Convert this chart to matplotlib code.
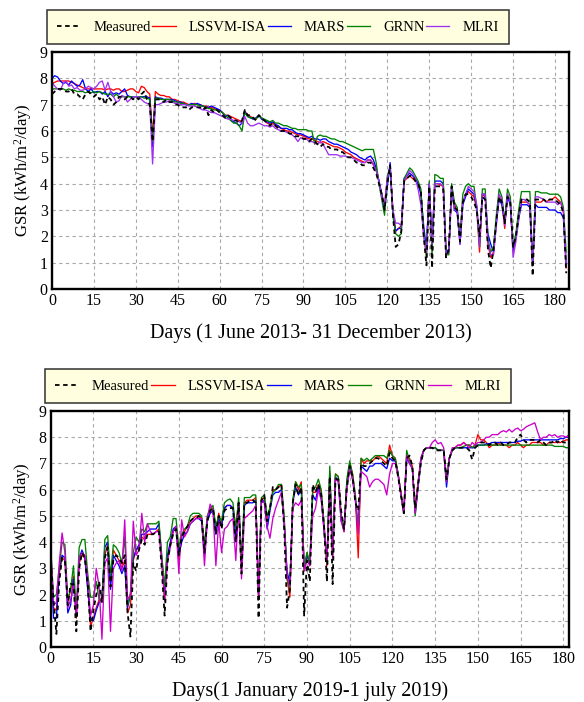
import numpy as np
import matplotlib
matplotlib.use("Agg")
import matplotlib.pyplot as plt

plt.rcParams['font.family'] = ['Liberation Serif', 'DejaVu Serif']
plt.rcParams['mathtext.fontset'] = 'custom'
plt.rcParams['mathtext.rm'] = 'Liberation Serif'
plt.rcParams['mathtext.it'] = 'Liberation Serif:italic'

series_names = ["Measured", "LSSVM-ISA", "MARS", "GRNN", "MLRI"]

# ---- Period 1: 1 June 2013 - 31 December 2013 (daily GSR, kWh/m2/day) ----
top_measured = [
    7.4, 7.5, 7.6, 7.6, 7.6, 7.5, 7.5, 7.6, 7.4, 7.4,
    7.3, 7.2, 7.4, 7.5, 7.4, 7.3, 7.4, 7.2, 7.3, 7.0,
    7.3, 7.2, 7.0, 7.1, 7.3, 7.3, 7.2, 7.3, 7.3, 7.2,
    7.3, 7.2, 7.4, 7.5, 7.2, 7.0, 5.6, 7.2, 7.2, 7.2,
    7.1, 7.2, 7.1, 7.1, 7.0, 7.0, 6.9, 6.9, 6.9, 6.8,
    6.9, 6.9, 6.9, 6.9, 6.8, 6.9, 6.6, 6.8, 6.7, 6.8,
    6.7, 6.6, 6.5, 6.6, 6.5, 6.4, 6.4, 6.3, 6.4, 6.8,
    6.6, 6.6, 6.5, 6.4, 6.6, 6.5, 6.4, 6.3, 6.2, 6.3,
    6.2, 6.1, 6.0, 6.0, 6.0, 5.9, 5.9, 5.8, 5.8, 5.8,
    5.7, 5.7, 5.6, 5.7, 5.6, 5.5, 5.4, 5.5, 5.4, 5.4,
    5.3, 5.3, 5.3, 5.2, 5.2, 5.1, 5.0, 5.0, 4.9, 4.8,
    4.8, 4.7, 4.7, 4.8, 4.8, 4.6, 4.4, 4.0, 3.6, 3.0,
    4.0, 4.7, 2.8, 1.6, 1.7, 2.2, 4.1, 4.2, 4.3, 4.3,
    4.1, 4.0, 3.7, 2.0, 0.9, 3.9, 0.8, 3.9, 3.9, 3.9,
    3.8, 1.2, 1.5, 3.9, 3.1, 3.0, 1.8, 3.3, 3.6, 3.6,
    3.5, 3.3, 3.0, 2.0, 3.5, 3.4, 1.5, 0.8, 1.5, 2.6,
    3.5, 3.3, 2.5, 3.5, 3.3, 1.6, 2.0, 2.8, 3.4, 3.4,
    3.4, 3.3, 0.5, 3.4, 3.4, 3.4, 3.4, 3.3, 3.4, 3.4,
    3.4, 3.3, 3.2, 2.9, 0.6,
]
top_lssvm = [
    7.8, 7.85, 7.9, 7.9, 7.9, 7.9, 7.9, 7.85, 7.8, 7.75,
    7.7, 7.65, 7.6, 7.6, 7.6, 7.6, 7.6, 7.6, 7.6, 7.55,
    7.6, 7.6, 7.55, 7.6, 7.6, 7.5, 7.5, 7.55, 7.6, 7.6,
    7.5, 7.45, 7.7, 7.65, 7.5, 7.4, 5.8, 7.5, 7.4, 7.35,
    7.35, 7.3, 7.3, 7.2, 7.2, 7.15, 7.1, 7.1, 7.05, 7.0,
    7.0, 7.05, 7.0, 7.0, 6.95, 6.95, 6.9, 6.9, 6.85, 6.8,
    6.8, 6.7, 6.6, 6.6, 6.55, 6.5, 6.45, 6.4, 6.35, 6.75,
    6.6, 6.55, 6.5, 6.45, 6.6, 6.5, 6.4, 6.3, 6.25, 6.3,
    6.2, 6.15, 6.1, 6.05, 6.0, 6.0, 5.95, 5.9, 5.85, 5.85,
    5.8, 5.75, 5.7, 5.7, 5.65, 5.6, 5.55, 5.6, 5.55, 5.5,
    5.45, 5.4, 5.4, 5.35, 5.3, 5.2, 5.15, 5.1, 5.0, 4.95,
    4.9, 4.85, 4.8, 4.9, 4.9, 4.75, 4.5, 4.1, 3.6, 3.2,
    4.2, 4.6, 3.0, 2.2, 2.3, 2.4, 4.1, 4.2, 4.3, 4.2,
    4.1, 4.0, 3.7, 2.1, 1.3, 3.9, 1.5, 4.0, 4.0, 3.95,
    3.9, 1.3, 1.4, 3.8, 3.2, 3.0, 1.9, 3.3, 3.6, 3.7,
    3.6, 3.5, 3.0, 1.4, 3.6, 3.5, 1.7, 1.2, 1.4, 2.6,
    3.5, 3.3, 2.3, 3.6, 3.3, 1.4, 2.0, 2.8, 3.3, 3.3,
    3.3, 3.2, 0.9, 3.3, 3.3, 3.3, 3.4, 3.3, 3.4, 3.4,
    3.5, 3.4, 3.3, 2.9, 0.8,
]
top_mars = [
    8.0, 8.1, 8.05, 7.9, 7.8, 7.85, 7.75, 7.9, 7.8, 7.7,
    7.75, 7.95, 7.6, 7.5, 7.6, 7.45, 7.5, 7.5, 7.4, 7.5,
    7.3, 7.5, 7.4, 7.45, 7.4, 7.5, 7.6, 7.35, 7.3, 7.3,
    7.3, 7.3, 7.3, 7.3, 7.3, 7.25, 5.4, 7.3, 7.25, 7.25,
    7.2, 7.2, 7.2, 7.2, 7.15, 7.1, 7.1, 7.05, 7.0, 7.0,
    7.05, 7.0, 7.05, 7.0, 6.95, 6.9, 6.9, 6.95, 6.9, 6.85,
    6.8, 6.7, 6.55, 6.6, 6.4, 6.35, 6.3, 6.2, 6.3, 6.75,
    6.55, 6.5, 6.45, 6.5, 6.6, 6.45, 6.4, 6.35, 6.3, 6.35,
    6.25, 6.2, 6.1, 6.1, 6.1, 6.05, 6.05, 5.95, 5.9, 5.9,
    5.85, 5.8, 5.75, 5.8, 5.7, 5.7, 5.65, 5.7, 5.7, 5.6,
    5.55, 5.5, 5.5, 5.45, 5.4, 5.35, 5.3, 5.2, 5.15, 5.1,
    5.0, 4.95, 4.9, 5.0, 5.05, 4.9, 4.6, 4.1, 3.6, 3.0,
    3.9, 4.8, 2.8, 2.2, 2.3, 2.3, 4.2, 4.3, 4.4, 4.3,
    4.2, 4.0, 3.6, 2.4, 1.5, 4.0, 1.6, 4.1, 4.1, 4.1,
    4.0, 1.4, 1.5, 3.9, 3.0, 2.9, 1.7, 3.2, 3.5, 3.8,
    3.7, 3.6, 3.1, 1.8, 3.6, 3.6, 2.1, 1.7, 1.4, 2.5,
    3.4, 3.2, 2.5, 3.5, 3.2, 1.5, 2.0, 2.7, 3.2, 3.2,
    3.2, 3.1, 0.9, 3.2, 3.1, 3.1, 3.1, 3.1, 3.0, 3.0,
    3.0, 2.9, 2.9, 2.7, 0.9,
]
top_grnn = [
    7.6, 7.6, 7.6, 7.6, 7.6, 7.55, 7.6, 7.55, 7.55, 7.5,
    7.5, 7.5, 7.45, 7.5, 7.45, 7.5, 7.45, 7.5, 7.45, 7.4,
    7.4, 7.4, 7.3, 7.4, 7.3, 7.3, 7.3, 7.3, 7.3, 7.3,
    7.3, 7.3, 7.3, 7.25, 7.25, 7.2, 5.6, 7.25, 7.25, 7.2,
    7.2, 7.2, 7.2, 7.15, 7.1, 7.1, 7.05, 7.05, 7.0, 7.0,
    7.0, 7.0, 7.0, 6.95, 6.95, 6.9, 6.85, 6.85, 6.8, 6.8,
    6.75, 6.7, 6.6, 6.5, 6.4, 6.3, 6.3, 6.2, 6.0, 6.7,
    6.55, 6.5, 6.5, 6.45, 6.6, 6.5, 6.45, 6.4, 6.35, 6.4,
    6.3, 6.3, 6.25, 6.2, 6.2, 6.15, 6.1, 6.1, 6.05, 6.05,
    6.05, 6.05, 6.0, 6.0, 5.5, 5.8, 5.85, 5.8, 5.8, 5.75,
    5.7, 5.7, 5.65, 5.6, 5.6, 5.55, 5.5, 5.45, 5.4, 5.35,
    5.3, 5.25, 5.3, 5.3, 5.3, 5.3, 4.8, 4.0, 3.4, 2.8,
    4.3, 4.6, 2.8, 2.1, 2.0, 2.1, 4.2, 4.4, 4.6, 4.5,
    4.3, 4.1, 3.8, 2.2, 1.2, 4.1, 1.3, 4.35, 4.3, 4.2,
    4.2, 1.3, 1.3, 4.0, 3.3, 3.1, 1.9, 3.6, 3.9, 4.0,
    3.9, 3.9, 3.1, 1.6, 3.8, 3.8, 1.9, 1.4, 1.6, 2.8,
    3.8, 3.5, 2.6, 3.8, 3.5, 1.6, 2.1, 3.0, 3.7, 3.7,
    3.7, 3.7, 1.0, 3.7, 3.7, 3.65, 3.65, 3.65, 3.6, 3.6,
    3.6, 3.6, 3.5, 3.1, 1.4,
]
top_mlri = [
    7.85, 7.7, 7.6, 7.55, 7.8, 7.9, 7.7, 7.75, 7.6, 7.65,
    7.55, 7.55, 7.6, 7.7, 7.65, 7.6, 7.7, 7.85, 7.9, 7.55,
    7.85, 7.5, 7.3, 7.1, 7.15, 7.35, 7.3, 7.1, 7.2, 7.3,
    7.3, 7.3, 7.2, 7.1, 7.05, 7.0, 4.75, 7.0, 7.0, 7.05,
    7.1, 7.1, 7.15, 7.1, 7.05, 7.05, 7.0, 7.0, 7.0, 6.95,
    6.95, 6.95, 6.9, 6.85, 6.8, 6.8, 6.75, 6.7, 6.7, 6.65,
    6.6, 6.55, 6.5, 6.45, 6.45, 6.4, 6.4, 6.35, 6.3, 6.55,
    6.3, 6.2, 6.2, 6.25, 6.3, 6.25, 6.2, 6.2, 6.15, 6.2,
    6.1, 6.05, 6.0, 6.0, 5.95, 5.9, 5.85, 5.75, 5.6, 5.75,
    5.7, 5.7, 5.6, 5.6, 5.55, 5.5, 5.6, 5.5, 5.3, 5.1,
    5.1, 5.1, 5.1, 5.05, 5.05, 5.05, 5.0, 5.0, 4.95, 4.9,
    4.85, 4.8, 4.8, 4.9, 4.9, 4.7, 4.5, 4.1, 3.5, 3.2,
    4.2, 4.6, 3.0, 2.5, 2.5, 2.4, 4.1, 4.3, 4.5, 4.4,
    4.2, 3.8, 3.2, 2.0, 1.4, 4.0, 1.7, 4.0, 4.0, 4.0,
    3.9, 1.3, 1.4, 3.8, 3.0, 3.0, 1.7, 3.3, 3.6, 3.9,
    3.8, 3.7, 3.2, 1.6, 3.6, 3.6, 1.8, 1.3, 1.3, 2.4,
    3.6, 3.4, 2.4, 3.6, 3.3, 1.2, 1.8, 2.6, 3.4, 3.4,
    3.3, 3.2, 0.9, 3.5, 3.5, 3.45, 3.4, 3.3, 3.3, 3.3,
    3.3, 3.2, 3.3, 3.0, 0.9,
]

# ---- Period 2: 1 January 2019 - 1 July 2019 ----
bot_measured = [
    3.3, 1.8, 0.5, 2.5, 3.4, 3.3, 1.6, 2.4, 2.4, 0.6,
    3.0, 3.6, 3.4, 2.4, 0.6, 1.4, 2.0, 2.5, 1.7, 3.4,
    3.8, 2.3, 3.3, 3.5, 3.4, 3.2, 3.5, 1.3, 0.4, 3.2,
    2.9, 3.7, 4.1, 3.9, 4.3, 4.3, 4.3, 4.4, 4.4, 3.0,
    1.2, 3.2, 3.9, 4.3, 4.5, 3.5, 4.2, 4.4, 4.6, 4.8,
    4.9, 4.9, 5.0, 4.9, 3.6, 4.8, 5.2, 5.3, 4.3, 5.0,
    4.5, 5.2, 5.3, 5.3, 5.3, 4.0, 5.5, 2.8, 5.5, 5.5,
    5.6, 5.6, 5.5, 1.1, 5.6, 5.8, 4.8, 5.3, 6.1, 6.0,
    6.1, 6.2, 4.5, 1.5, 2.2, 5.5, 6.2, 5.8, 6.1, 1.2,
    3.3, 2.5, 6.2, 5.9, 6.2, 5.8, 4.6, 2.5, 6.5, 2.4,
    6.4, 6.4, 5.2, 4.5, 6.1, 6.9, 6.5, 5.5, 5.2, 7.0,
    6.9, 6.9, 7.0, 7.1, 7.2, 7.2, 7.1, 7.0, 6.9, 7.4,
    7.2, 7.1, 6.5, 5.8, 5.1, 7.2, 7.3, 6.9, 5.3, 6.2,
    7.0, 7.5, 7.6, 7.6, 7.6, 7.5, 7.5, 7.5, 7.5, 6.4,
    7.2, 7.5, 7.6, 7.6, 7.6, 7.6, 7.6, 7.5, 7.15, 7.6,
    7.7, 7.8, 7.8, 7.8, 7.7, 7.8, 7.8, 7.7, 7.8, 7.7,
    7.7, 7.8, 7.8, 7.8, 8.0, 8.1, 7.9, 7.8, 7.9, 7.9,
    7.9, 7.8, 7.9, 7.8, 7.7, 7.8, 7.8, 7.9, 7.8, 7.9,
    7.8, 7.8, 7.8,
]
bot_lssvm = [
    3.4, 1.5, 1.4, 2.8, 3.4, 3.3, 1.7, 2.2, 2.7, 1.1,
    3.2, 3.5, 3.4, 2.3, 0.8, 1.1, 1.5, 1.8, 1.8, 3.5,
    3.9, 2.5, 3.7, 3.5, 3.3, 3.0, 3.3, 1.3, 1.6, 3.3,
    3.7, 3.8, 4.2, 4.1, 4.3, 4.3, 4.3, 4.4, 4.5, 3.3,
    1.8, 3.4, 3.9, 4.4, 4.6, 3.3, 4.2, 4.4, 4.6, 4.8,
    4.9, 5.0, 5.0, 4.9, 3.8, 4.9, 5.2, 5.3, 4.4, 5.1,
    4.6, 5.3, 5.4, 5.4, 5.3, 4.6, 5.5, 3.0, 5.5, 5.6,
    5.6, 5.6, 5.7, 1.8, 5.6, 5.7, 4.9, 5.3, 6.0, 6.0,
    6.1, 6.2, 4.8, 2.6, 1.9, 5.5, 6.3, 6.0, 6.3, 2.9,
    3.6, 3.1, 5.9, 5.9, 6.2, 5.9, 4.6, 3.1, 6.7, 3.5,
    6.6, 6.5, 5.0, 4.4, 6.3, 7.0, 6.6, 5.7, 3.4, 7.2,
    7.0, 7.1, 7.1, 7.1, 7.2, 7.3, 7.2, 7.1, 7.0, 7.7,
    7.3, 7.2, 6.6, 5.9, 5.1, 7.3, 7.2, 6.9, 5.2, 6.3,
    7.2, 7.5, 7.6, 7.6, 7.6, 7.6, 7.5, 7.5, 7.5, 6.3,
    7.2, 7.5, 7.6, 7.7, 7.7, 7.8, 7.7, 7.7, 7.6, 7.7,
    8.1, 7.9, 7.9, 7.8, 7.6, 7.7, 7.7, 7.8, 7.7, 7.7,
    7.7, 7.6, 7.7, 7.7, 7.8, 7.7, 7.6, 7.7, 7.7, 7.8,
    7.8, 7.8, 7.8, 7.7, 7.7, 7.8, 7.8, 7.8, 7.8, 7.8,
    7.85, 7.9, 7.9,
]
bot_mars = [
    3.4, 1.1, 1.1, 2.9, 3.5, 3.4, 1.3, 1.6, 2.6, 1.2,
    3.4, 3.7, 3.4, 2.2, 1.1, 1.0, 1.4, 1.7, 1.8, 3.8,
    4.0, 2.2, 3.5, 3.3, 3.1, 2.8, 3.1, 1.5, 2.0, 3.4,
    3.7, 3.9, 4.3, 4.3, 4.4, 4.5, 4.5, 4.5, 4.7, 3.4,
    2.1, 3.5, 4.0, 4.5, 4.6, 3.5, 4.0, 4.3, 4.4, 4.7,
    4.8, 4.9, 4.9, 4.8, 3.5, 4.8, 5.1, 5.2, 4.3, 4.9,
    4.6, 5.3, 5.4, 5.4, 5.3, 4.0, 5.5, 3.1, 5.4, 5.5,
    5.5, 5.5, 5.6, 2.0, 5.5, 5.6, 4.5, 5.2, 5.8, 5.9,
    5.9, 6.0, 4.7, 2.9, 2.4, 5.5, 6.1, 5.8, 6.0, 3.0,
    3.5, 3.2, 5.8, 5.6, 6.1, 5.7, 4.4, 3.3, 6.6, 3.6,
    6.5, 6.3, 4.8, 4.5, 6.2, 6.9, 6.4, 5.6, 4.5, 6.9,
    6.8, 6.7, 6.9, 6.9, 7.0, 7.0, 7.0, 6.9, 6.8, 7.2,
    7.1, 7.1, 6.6, 5.8, 5.1, 7.2, 7.0, 6.8, 5.1, 6.1,
    7.1, 7.5, 7.6, 7.6, 7.6, 7.6, 7.5, 7.5, 7.5, 6.1,
    7.2, 7.5, 7.6, 7.6, 7.6, 7.6, 7.6, 7.6, 7.6, 7.6,
    7.7, 7.7, 7.7, 7.75, 7.75, 7.8, 7.8, 7.8, 7.8, 7.8,
    7.8, 7.8, 7.8, 7.8, 7.85, 7.85, 7.9, 7.9, 7.9, 7.9,
    7.9, 7.9, 7.9, 7.9, 7.9, 7.9, 7.9, 7.9, 7.9, 7.95,
    7.95, 8.0, 8.0,
]
bot_grnn = [
    3.8, 1.9, 2.0, 3.0, 4.0, 3.9, 1.8, 2.2, 3.1, 1.4,
    3.8, 4.1, 4.1, 2.8, 1.9, 1.9, 2.5, 1.8, 1.7, 4.1,
    4.25, 2.7, 3.9, 3.8, 3.6, 3.2, 4.2, 1.6, 2.0, 3.6,
    4.2, 4.0, 4.5, 4.4, 4.7, 4.7, 4.7, 4.7, 4.8, 3.5,
    2.3, 4.0, 4.2, 4.9, 4.9, 3.8, 4.3, 4.5, 4.6, 5.0,
    5.1, 5.1, 5.1, 5.0, 3.9, 5.0, 5.3, 5.4, 4.6, 5.0,
    4.8, 5.5, 5.6, 5.65, 5.5, 4.5, 5.7, 3.3, 5.7, 5.7,
    5.7, 5.8, 5.8, 2.0, 5.7, 5.8, 5.0, 5.3, 5.9, 6.0,
    6.2, 6.2, 5.0, 2.6, 2.2, 5.6, 6.3, 6.1, 6.2, 3.0,
    3.6, 3.2, 6.0, 6.1, 6.4, 6.0, 4.7, 3.2, 6.9, 3.5,
    6.6, 6.5, 5.0, 4.4, 6.4, 7.1, 6.6, 5.8, 4.4, 7.2,
    7.1, 7.2, 7.1, 7.2, 7.3, 7.3, 7.3, 7.3, 7.2, 7.5,
    7.3, 7.2, 6.6, 5.8, 5.1, 7.5, 7.1, 6.8, 5.0, 6.2,
    7.2, 7.5, 7.6, 7.6, 7.6, 7.6, 7.5, 7.5, 7.5, 6.3,
    7.2, 7.5, 7.6, 7.6, 7.6, 7.65, 7.7, 7.7, 7.6, 7.7,
    7.7, 7.7, 7.7, 7.7, 7.7, 7.7, 7.7, 7.7, 7.7, 7.7,
    7.7, 7.7, 7.7, 7.7, 7.7, 7.7, 7.7, 7.7, 7.7, 7.7,
    7.7, 7.7, 7.7, 7.7, 7.7, 7.7, 7.7, 7.65, 7.65, 7.65,
    7.65, 7.6, 7.6,
]
bot_mlri = [
    3.8, 1.6, 1.7, 3.2, 4.35, 3.6, 1.5, 1.8, 2.4, 1.2,
    3.4, 3.6, 3.5, 2.6, 1.2, 1.6, 3.0, 2.3, 0.3, 3.2,
    3.4, 0.6, 3.0, 3.2, 3.3, 2.9, 4.85, 1.8, 2.0, 4.8,
    3.5, 3.7, 5.1, 4.0, 4.7, 4.4, 4.3, 4.4, 4.4, 3.3,
    1.75, 3.3, 3.8, 4.4, 4.6, 2.8, 4.85, 4.2, 4.4, 4.7,
    4.8, 4.9, 4.9, 4.9, 3.1, 4.9, 5.45, 5.2, 3.1, 4.8,
    3.6, 4.5, 4.6, 4.8, 4.9, 3.3, 5.4, 2.6, 4.9, 5.0,
    5.1, 5.2, 5.4, 1.9, 5.6, 5.5, 4.6, 4.15, 4.9, 5.3,
    5.6, 5.9, 4.7, 2.7, 2.3, 5.3, 5.5, 5.4, 5.6, 2.9,
    3.3, 3.1, 5.0, 5.3, 6.0, 5.6, 4.5, 3.3, 6.0, 3.4,
    6.4, 6.3, 4.8, 4.4, 6.0, 6.8, 6.4, 5.6, 4.3, 6.7,
    6.6, 6.5, 6.1, 6.3, 6.4, 6.4, 6.3, 6.2, 5.8, 6.6,
    7.0, 7.0, 6.5, 5.8, 5.1, 7.3, 7.0, 6.8, 5.1, 6.1,
    7.2, 7.5, 7.6, 7.6, 7.8, 7.9, 7.75, 7.8, 7.6, 6.3,
    7.2, 7.6, 7.6, 7.7, 7.7, 7.8, 7.7, 7.6, 7.8, 7.7,
    7.8, 7.8, 7.9, 8.0, 8.0, 8.1, 8.1, 8.1, 8.2, 8.25,
    8.2, 8.3, 8.2, 8.3, 8.35, 8.25, 8.3, 8.4, 8.45, 8.5,
    8.55, 8.2, 7.9, 8.0, 8.0, 8.1, 8.05, 8.1, 8.0, 8.05,
    8.05, 8.0, 8.1,
]

x_ticks = list(range(0, 181, 15))
y_ticks = list(range(0, 10))
top_xlabel = "Days (1 June 2013- 31 December 2013)"
bot_xlabel = "Days(1 January 2019-1 july 2019)"
ylabel = r"GSR (kWh/m$^{\mathrm{2}}$/day)"


def draw_panel(ax, data, colors, xmax, xlabel, legend_box):
    styles = [dict(color="black", lw=1.3, ls=(0, (2.5, 2)))] + \
             [dict(color=c, lw=0.95, ls="-") for c in colors]
    # draw models first, measured on top
    order = [1, 2, 3, 4, 0]
    lines = {}
    for i in order:
        y = data[i]
        lines[i], = ax.plot(np.arange(len(y)), y, label=series_names[i],
                            zorder=3 if i == 0 else 2, **styles[i])
    ax.set_xlim(0, xmax)
    ax.set_ylim(0, 9)
    ax.set_xticks(x_ticks)
    ax.set_yticks(y_ticks)
    ax.grid(True, color="#a8a8a8", ls=(0, (3, 3)), lw=0.8)
    ax.set_axisbelow(True)
    for s in ax.spines.values():
        s.set_linewidth(1.7)
    ax.tick_params(direction="in", length=0, labelsize=11.5, pad=3)
    ax.set_ylabel(ylabel, fontsize=12, labelpad=4)
    ax.set_xlabel(xlabel, fontsize=14.5, labelpad=10)
    leg = ax.legend([lines[i] for i in range(5)], series_names,
                    loc="lower left", bbox_to_anchor=legend_box, mode="expand",
                    ncol=5, fontsize=10.5, handlelength=1.6, handletextpad=0.9,
                    columnspacing=0.3, borderaxespad=0, fancybox=False,
                    framealpha=1, facecolor="#ffffe0", edgecolor="#303030",
                    borderpad=0.7)
    leg.get_frame().set_linewidth(1.1)


fig = plt.figure(figsize=(5.84, 7.02), dpi=100)
ax1 = fig.add_axes([0.0890, 0.5883, 0.8853, 0.3376])
ax2 = fig.add_axes([0.0868, 0.0783, 0.8875, 0.3362])

draw_panel(ax1, [top_measured, top_lssvm, top_mars, top_grnn, top_mlri],
           ["#ff0000", "#0000ff", "#008000", "#a030f0"], 185, top_xlabel,
           (-0.0097, 1.034, 0.894, 0.148))
draw_panel(ax2, [bot_measured, bot_lssvm, bot_mars, bot_grnn, bot_mlri],
           ["#ff0000", "#0000ff", "#008000", "#cc00cc"], 182, bot_xlabel,
           (-0.011, 1.034, 0.899, 0.131))

fig.savefig("out.png", dpi=100)
